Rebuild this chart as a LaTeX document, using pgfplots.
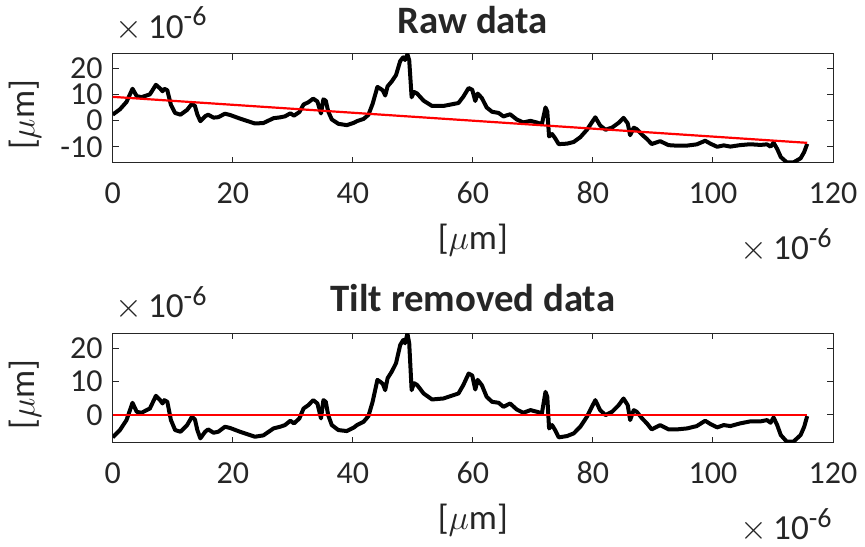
\documentclass[border=0pt]{standalone}
\usepackage{fontspec}
\setmainfont{Carlito}
\usepackage{pgfplots}
\usepackage{pgfplotstable}
\pgfplotsset{compat=1.18}
\definecolor{axgray}{rgb}{0.15,0.15,0.15}

\pgfplotstableread{
u v r
0 -6.8 2.30
1.2 -4.6 4.32
2.3 -1.6 7.15
3.3 3.6 12.20
4.0 0.9 9.39
4.8 0.6 8.97
6.2 1.9 10.06
7.2 5.7 13.71
7.9 4.4 12.30
8.3 3.4 11.24
8.6 4.4 12.19
9.1 3.9 11.62
9.7 -1.6 6.03
10.4 -4.6 2.92
11.3 -5.1 2.28
12.4 -3.1 4.12
13.2 -0.6 6.49
13.7 -1.4 5.62
14.1 -4.6 2.36
14.6 -7.1 -0.22
15.4 -5.1 1.66
15.9 -4.4 2.28
16.8 -5.4 1.15
17.6 -5.1 1.32
18.7 -3.6 2.66
19.6 -4.0 2.12
21.2 -5.1 0.78
23.7 -6.6 -1.10
25.1 -6.2 -0.92
26.8 -4.1 0.93
27.9 -3.6 1.26
28.7 -3.1 1.64
29.6 -1.8 2.80
30.2 -2.6 1.91
31.1 -1.1 3.27
31.8 1.9 6.17
32.6 2.9 7.04
33.4 4.4 8.42
34.1 3.4 7.32
34.7 -1.1 2.73
35.1 4.4 8.16
35.5 3.9 7.60
35.9 -0.1 3.54
36.5 -3.1 0.45
37.6 -4.6 -1.22
39.0 -4.9 -1.73
40.2 -3.8 -0.81
40.7 -3.1 -0.19
41.8 -2.1 0.65
42.6 -0.4 2.22
43.3 3.9 6.42
44.1 10.5 12.90
44.6 9.9 12.22
45.0 9.3 11.56
45.4 7.4 9.60
45.8 11.0 13.14
46.5 13.0 15.03
47.2 15.5 17.43
47.9 21.0 22.82
48.4 22.5 24.24
48.7 21.5 23.20
49.1 24.4 25.40
49.4 21.5 23.09
49.8 7.4 8.93
50.2 9.5 10.97
50.7 9.0 10.39
51.8 6.4 7.63
53.2 4.6 5.61
55.1 4.9 5.62
57.6 6.4 6.74
58.4 8.9 9.12
59.3 12.4 12.49
59.9 11.8 11.80
60.4 7.6 7.52
60.8 10.5 10.36
61.5 8.9 8.65
62.3 5.4 5.03
63.2 3.9 3.39
64.3 3.6 2.93
65.1 2.4 1.60
66.2 3.4 2.44
67.3 1.6 0.47
68.4 0.6 -0.70
69.6 1.4 -0.08
70.7 0.9 -0.75
71.5 0.4 -1.37
72.1 6.9 5.04
72.4 5.4 3.50
72.7 -4.1 -6.05
73.2 -3.1 -5.13
73.7 -4.6 -6.70
74.3 -6.8 -8.99
75.7 -6.4 -8.81
76.8 -5.6 -8.17
77.9 -3.6 -6.34
79.0 -0.6 -3.51
80.4 4.4 1.28
81.2 1.4 -1.84
82.1 -0.1 -3.48
83.2 0.9 -2.65
84.3 2.9 -0.81
85.1 4.9 1.06
85.8 2.9 -1.04
86.2 -1.6 -5.60
86.8 1.4 -2.69
87.3 0.9 -3.27
88.2 -1.1 -5.41
89.0 -2.6 -7.03
89.8 -4.4 -8.95
91.2 -3.1 -7.86
92.6 -4.4 -9.38
94.0 -4.4 -9.59
95.7 -4.1 -9.55
97.3 -3.4 -9.09
98.7 -1.8 -7.70
99.6 -2.8 -8.84
100.7 -3.8 -10.01
101.8 -3.1 -9.47
102.9 -3.4 -9.94
104.5 -2.6 -9.38
106.2 -2.0 -9.04
107.9 -2.0 -9.30
109.0 -1.6 -9.07
109.6 -2.4 -9.96
110.1 -0.8 -8.44
110.7 -3.1 -10.83
111.3 -6.1 -13.92
112.3 -8.1 -16.00
113.4 -8.1 -16.00
114.6 -6.1 -14.42
115.2 -3.6 -12.01
115.7 -0.4 -8.89
}\profile

\newcommand{\expo}{{\fontsize{17.6}{21}\selectfont$\times$}\,10\textsuperscript{\fontsize{14}{16}\selectfont -6}}

\pgfplotsset{
  every axis title shift=0pt,
  matlab/.style={
    scale only axis,
    width=360.15pt,
    xmin=0, xmax=120,
    xtick={0,20,40,60,80,100,120},
    xticklabels={0,20,40,60,80,100,120},
    tick align=inside,
    major tick length=3pt,
    clip mode=individual,
    axis line style={axgray, line width=0.5pt},
    every tick/.style={axgray, line width=0.5pt},
    tick label style={font=\fontsize{16}{19}\selectfont, text=axgray},
    xticklabel style={anchor=base, yshift=-20.4pt},
    yticklabel style={xshift=-1.5pt},
    label style={font=\fontsize{17.6}{21}\selectfont, text=axgray},
    xlabel={[$\mu$m]},
    ylabel={[$\mu$m]},
    xlabel style={at={(axis description cs:0.5,-0.711)}, anchor=center},
    ylabel style={at={(axis description cs:-0.1218,0.44)}, anchor=center, rotate=0},
    title style={font=\bfseries\fontsize{19.4}{23}\selectfont, text=axgray, anchor=center, yshift=0pt},
  }
}

\begin{document}
\begin{tikzpicture}
\useasboundingbox (0,0) rectangle (432.5pt,273pt);
% top axis
\begin{axis}[matlab,
  at={(56.35pt,191.65pt)}, anchor=south west,
  height=54.35pt,
  ymin=-16.1, ymax=25.5,
  ytick={-10,0,10,20},
  yticklabels={-10,0,10,20},
  title={Raw data},
  title style={at={(axis description cs:0.5,1.313)}},
]
\addplot[black, line width=2pt, line join=round] table[x=u, y=r] {\profile};
\addplot[red, line width=1.1pt] coordinates {(0,9.1) (115.7,-8.5)};
\node[anchor=base west, inner sep=0pt, font=\fontsize{17.6}{21}\selectfont, text=axgray] at (axis description cs:0.003,1.144) {\expo};
\node[anchor=base east, inner sep=0pt, font=\fontsize{17.6}{21}\selectfont, text=axgray] at (axis description cs:1,-0.895) {\expo};
\end{axis}
% bottom axis
\begin{axis}[matlab,
  at={(56.35pt,51.65pt)}, anchor=south west,
  height=54.7pt,
  ymin=-8.4, ymax=24.5,
  ytick={0,10,20},
  yticklabels={0,10,20},
  title={Tilt removed data},
  title style={at={(axis description cs:0.5,1.323)}},
  xlabel style={at={(axis description cs:0.5,-0.707)}},
]
\addplot[black, line width=2pt, line join=round] table[x=u, y=v] {\profile};
\addplot[red, line width=1.1pt] coordinates {(0,0) (115.7,0)};
\node[anchor=base west, inner sep=0pt, font=\fontsize{17.6}{21}\selectfont, text=axgray] at (axis description cs:0.003,1.143) {\expo};
\node[anchor=base east, inner sep=0pt, font=\fontsize{17.6}{21}\selectfont, text=axgray] at (axis description cs:1,-0.889) {\expo};
\end{axis}
\end{tikzpicture}
\end{document}
